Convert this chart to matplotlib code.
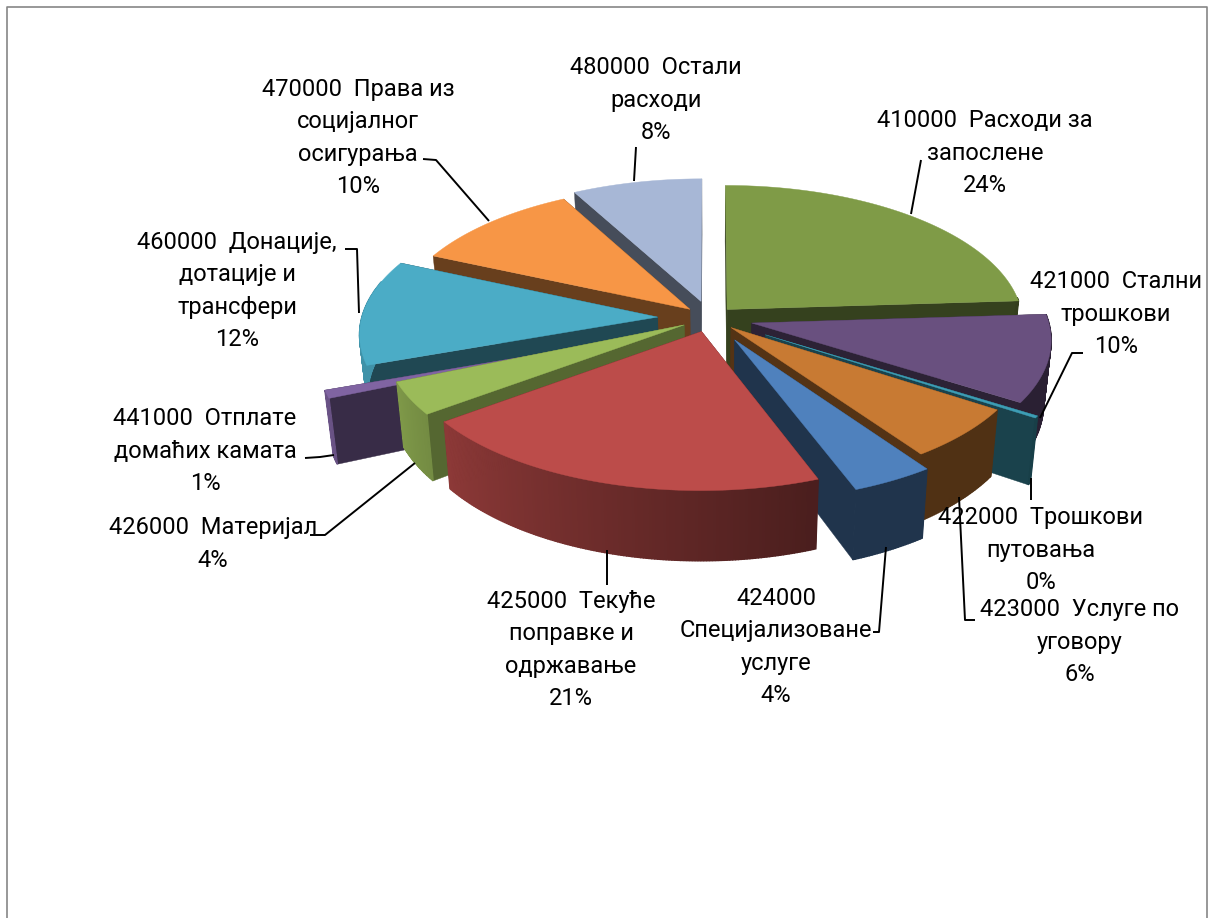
import numpy as np
import matplotlib
matplotlib.use('Agg')
import matplotlib.pyplot as plt
from matplotlib.colors import to_rgb

names = ['410000  Расходи за\nзапослене', '421000  Стални\nтрошкови', '422000  Трошкови\nпутовања',
         '423000  Услуге по\nуговору', '424000\nСпецијализоване\nуслуге', '425000  Текуће\nпоправке и\nодржавање',
         '426000  Материјал', '441000  Отплате\nдомаћих камата', '460000  Донације,\nдотације и\nтрансфери',
         '470000  Права из\nсоцијалног\nосигурања', '480000  Остали\nрасходи']
values = [24, 10, 0.25, 6, 4, 20.6, 3.8, 0.9, 12.1, 10.45, 7.9]
explode = [0.085, 0.145, 0.22, 0.098, 0.175, 0.1, 0.1, 0.33, 0.177, 0.093, 0.125]
explode_turn = [0, 0, 0, 0, 0, 0, 0, -7, 0, 0, 0]
colors = ['#7F9B47', '#69507F', '#3D9DB5', '#C87A33', '#4F81BD', '#BC4C4A',
          '#9BBB59', '#8064A2', '#4BACC6', '#F79646', '#A7B7D6']
wall_shade = [0.42, 0.42, 0.42, 0.42, 0.40, 0.42, 0.55, 0.44, 0.42, 0.42, 0.42]
draw_order = [0, 10, 9, 8, 7, 6, 1, 2, 3, 4, 5]

# label centres in pixels, same order as names
label_x = [985, 1116, 1041, 1080, 776, 571, 213, 205, 237, 358, 656]
label_y = [153, 314, 550, 642, 647, 650, 544, 451, 291, 138, 100]
leaders = [[(921, 160), (911, 214)], [(1083, 353), (1072, 353), (1040, 418)], [(1031, 478), (1031, 500)],
           [(975, 620), (965, 620), (959, 497)], [(873, 632), (879, 632), (886, 547)], [(607, 550), (607, 585)],
           [(310, 535), (325, 535), (415, 463)], [(305, 458), (320, 457), (334, 455)],
           [(345, 249), (357, 249), (359, 313)], [(423, 159), (436, 160), (489, 221)], [(636, 147), (634, 181)]]

# projection of the pie plane to pixels
cx, cy = 710, 318
kx, ky, persp = 296, 139, 0.107
depth, squeeze = 62, 0.978


def project(u, v):
    s = 1 / (1 + persp * v)
    return kx * u * s, -ky * v * s, s


def shade(col, f):
    return tuple(c * f for c in to_rgb(col))


def wall_factor(deg):
    return float(np.clip(0.85 - (255 - deg) / 90 * 0.43, 0.40, 0.85))


def slice_points(a0, a1, e, turn):
    mid = np.radians((a0 + a1) / 2 + turn)
    ou, ov = e * np.sin(mid), e * np.cos(mid)
    ang = np.radians(np.linspace(a0, a1, max(int(a1 - a0) * 2, 3)))
    u = np.concatenate([[ou], ou + np.sin(ang)])
    v = np.concatenate([[ov], ov + np.cos(ang)])
    x, y, s = project(u, v)
    top = np.column_stack([cx + x, cy + y])
    bot = np.column_stack([cx + x * squeeze, cy + y + depth * s])
    return top, bot, np.degrees(ang)


fig = plt.figure(figsize=(12.09, 9.18), dpi=100)
ax = fig.add_axes([0, 0, 1, 1])
ax.set_xlim(0, 1209)
ax.set_ylim(918, 0)
ax.axis('off')

ax.plot([7, 7, 1207, 1207], [918, 7, 7, 918], color='#868686', lw=1.2)

edges = np.cumsum([0] + values) / sum(values) * 360
for i in draw_order:
    top, bot, deg = slice_points(edges[i], edges[i + 1], explode[i], explode_turn[i])
    col = colors[i]
    dark = shade(col, wall_shade[i])
    # the two cut faces
    for j in (1, len(top) - 1):
        quad = np.array([top[0], top[j], bot[j], bot[0]])
        ax.fill(quad[:, 0], quad[:, 1], color=dark, lw=0.3)
    # rounded outer wall, shaded strip by strip, far side stays hidden
    for j in range(1, len(top) - 1):
        mid_deg = (deg[j - 1] + deg[j]) / 2
        if mid_deg < 85 or mid_deg > 285:
            continue
        quad = np.array([top[j], top[j + 1], bot[j + 1], bot[j]])
        ax.fill(quad[:, 0], quad[:, 1], color=shade(col, wall_factor(mid_deg)), lw=1.0)
    ax.fill(top[:, 0], top[:, 1], color=col, lw=0.3)

for pts in leaders:
    ax.plot([p[0] for p in pts], [p[1] for p in pts], color='black', lw=1.4, solid_capstyle='butt')

for name, val, x, y in zip(names, values, label_x, label_y):
    ax.text(x, y, '%s\n%d%%' % (name, round(val)), ha='center', va='center', fontsize=17,
            family='Roboto', color='black', linespacing=1.53, multialignment='center')

fig.savefig('out.png', dpi=100)
